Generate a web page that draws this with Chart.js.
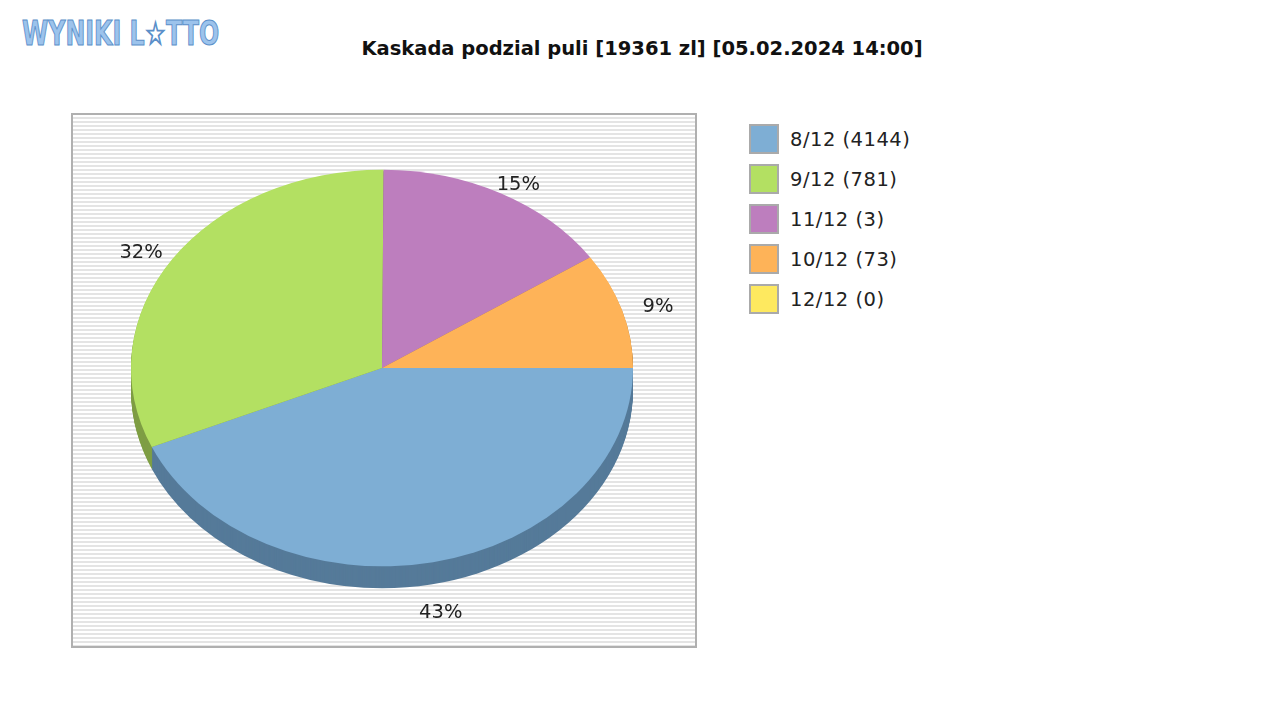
<!DOCTYPE html>
<html><head><meta charset="utf-8">
<script src="https://cdn.jsdelivr.net/npm/chart.js@4/dist/chart.umd.min.js"></script>
<style>
body{margin:0;width:1280px;height:720px;background:#fff;font-family:"DejaVu Sans",sans-serif;position:relative;overflow:hidden}
#logo{position:absolute;left:22px;top:14px;font:bold 33px "DejaVu Sans Condensed","DejaVu Sans",sans-serif;color:#9cc3ec;-webkit-text-stroke:1px #5b8fc9;letter-spacing:0px;transform:scaleX(0.8);transform-origin:left}
#title{position:absolute;left:0;width:1284px;top:37px;text-align:center;font-weight:bold;font-size:19.5px;color:#111}
#box{position:absolute;left:71px;top:113px;width:622px;height:531px;border:2px solid #b0b0b0;
background:repeating-linear-gradient(#fff 0 2px,#e4e4e4 2px 4px)}
#wrap{position:absolute;left:71px;top:113px;width:626px;height:535px}
#legend{position:absolute;left:749px;top:119px}
.it{display:flex;align-items:center;height:40px;font-size:19.5px;color:#222;letter-spacing:0.5px}
.sw{width:26px;height:26px;border:2px solid #aaa;margin-right:11px}
</style></head><body>
<div id="logo">WYNIKI L☆TTO</div>
<div id="title">Kaskada podzial puli [19361 zl] [05.02.2024 14:00]</div>
<div id="box"></div>
<div id="wrap"><canvas id="c" width="626" height="535"></canvas></div>
<div id="legend"></div>
<script>
const categories=["8/12 (4144)","9/12 (781)","11/12 (3)","10/12 (73)","12/12 (0)"];
const percents=[43.3,31.5,15.4,9.4,0];
const colors=["#7eaed4","#b3e062","#bd7ebe","#feb358","#fee95f"];
const darkColors=["#557a99","#7f9e45","#855a86","#b37f3e","#b3a443"];
const K=0.79,DEPTH=22,CY=267,TARGET=255;
const lg=document.getElementById('legend');
categories.forEach((c,i)=>{lg.innerHTML+=`<div class="it"><div class="sw" style="background:${colors[i]}"></div>${c}</div>`;});
const tilt={id:'tilt',
beforeDatasetsDraw(ch){const ctx=ch.ctx,arcs=ch.getDatasetMeta(0).data;
 for(let d=DEPTH;d>=1;d--){ctx.save();ctx.translate(0,TARGET+d);ctx.scale(1,K);ctx.translate(0,-CY);
  arcs.forEach((a,i)=>{if(a.endAngle-a.startAngle<=0)return;ctx.beginPath();ctx.moveTo(a.x,a.y);ctx.arc(a.x,a.y,a.outerRadius,a.startAngle,a.endAngle);ctx.closePath();ctx.fillStyle=darkColors[i];ctx.fill();});
  ctx.restore();}
 ctx.save();ctx.translate(0,TARGET);ctx.scale(1,K);ctx.translate(0,-CY);},
afterDatasetsDraw(ch){const ctx=ch.ctx;ctx.restore();
 const arcs=ch.getDatasetMeta(0).data;const tot=percents.reduce((a,b)=>a+b,0);
 ctx.save();ctx.font='19.5px "DejaVu Sans"';ctx.fillStyle='#222';ctx.textAlign='center';ctx.textBaseline='middle';
 arcs.forEach((a,i)=>{if(!percents[i])return;const m=(a.startAngle+a.endAngle)/2;const r=a.outerRadius*1.15;
  const s=Math.sin(m);let y=TARGET+s*a.outerRadius*K*(s>0?1.15:1.05);if(s>0)y+=DEPTH*s;
  ctx.fillText(Math.round(percents[i]/tot*100)+'%',a.x+Math.cos(m)*r,y);});
 ctx.restore();}};
new Chart(document.getElementById('c'),{type:'pie',
data:{labels:categories,datasets:[{data:percents,backgroundColor:colors,borderWidth:0}]},
options:{responsive:false,animation:false,rotation:90,layout:{padding:{top:16,bottom:17,left:0,right:4}},
plugins:{legend:{display:false},tooltip:{enabled:false}}},plugins:[tilt]});
</script></body></html>
